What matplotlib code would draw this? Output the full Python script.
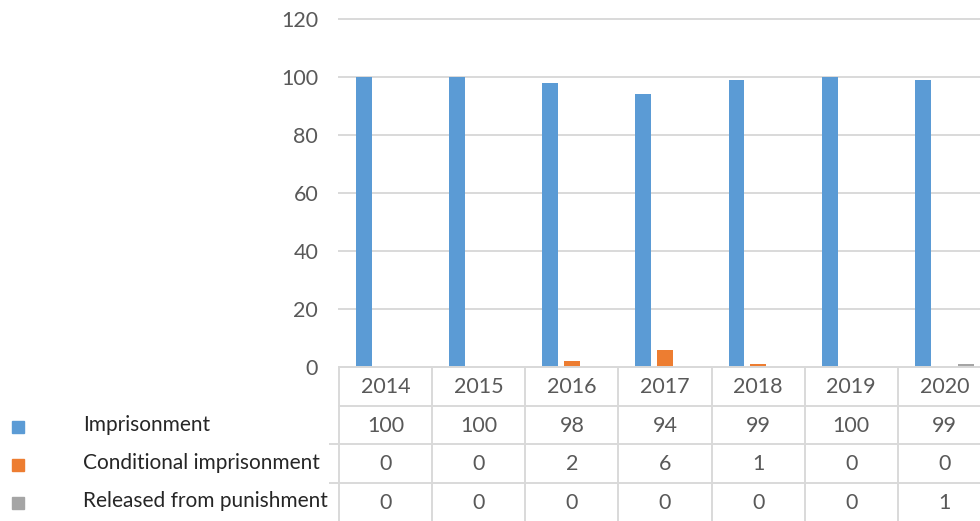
import matplotlib
matplotlib.use("Agg")
import matplotlib.pyplot as plt
from matplotlib.patches import Rectangle

years = ["2014", "2015", "2016", "2017", "2018", "2019", "2020"]
series_names = ["Imprisonment", "Conditional imprisonment", "Released from punishment"]
imprisonment = [100, 100, 98, 94, 99, 100, 99]
conditional = [0, 0, 2, 6, 1, 0, 0]
released = [0, 0, 0, 0, 0, 0, 1]
colors = ["#5B9BD5", "#ED7D31", "#A5A5A5"]
yticks = [0, 20, 40, 60, 80, 100, 120]

plt.rcParams['font.family'] = ['Lato', 'DejaVu Sans']

W, H = 980, 521
fig = plt.figure(figsize=(W / 100, H / 100), dpi=100)

def fx(px):
    return px / W

def fy(py):
    return 1 - py / H

NUM_FS = 15.5
LEG_FS = 15

left_px, right_px = 339, 991
top_px, zero_px = 19, 367
ax = fig.add_axes([fx(left_px), fy(zero_px), fx(right_px - left_px), (zero_px - top_px) / H])
n = len(years)
xs = list(range(n))
bw = 0.17
off = 0.232
all_series = [imprisonment, conditional, released]
for i, (vals, c) in enumerate(zip(all_series, colors)):
    ax.bar([x + (i - 1) * off for x in xs], vals, width=bw, color=c, zorder=3)
ax.set_xlim(-0.5, n - 0.5)
ax.set_ylim(0, 120)
ax.set_yticks(yticks)
ax.set_yticklabels([str(t) for t in yticks], fontsize=NUM_FS, color="#595959")
ax.tick_params(axis='y', length=0, pad=15)
ax.set_xticks([])
ax.grid(axis='y', color="#D9D9D9", linewidth=1.4, zorder=0)
for s in ax.spines.values():
    s.set_visible(False)
for gl in ax.get_ygridlines():
    gl.set_clip_on(False)

# data table
tab = fig.add_axes([fx(left_px), 0, fx(right_px - left_px), (H - zero_px) / H])
tab.set_xlim(-0.5, n - 0.5)
tab.set_ylim(4, 0)
tab.axis('off')
lc = "#D9D9D9"
for k in range(n + 1):
    tab.plot([k - 0.5, k - 0.5], [0, 4], color=lc, lw=1.4, clip_on=False)
for r in range(4):
    tab.plot([-0.5, n - 0.5], [r, r], color=lc, lw=1.4, clip_on=False)
    if r >= 2:
        tab.plot([-0.6, -0.5], [r, r], color=lc, lw=1.4, clip_on=False)
for j, yr in enumerate(years):
    tab.text(j, 0.53, yr, ha='center', va='center', fontsize=NUM_FS, color="#595959")
for r, vals in enumerate(all_series):
    for j, v in enumerate(vals):
        tab.text(j, r + 1.53, str(v), ha='center', va='center', fontsize=NUM_FS, color="#595959")

# legend keys
row_centers = [427, 465, 503]
for name, c, yc in zip(series_names, colors, row_centers):
    fig.patches.append(Rectangle((fx(12), fy(yc + 6)), fx(12), 12 / H, color=c,
                                 transform=fig.transFigure, figure=fig))
    fig.text(fx(83), fy(yc - 2), name, ha='left', va='center', fontsize=LEG_FS, color="#262626")

fig.savefig("out.png", dpi=100)
